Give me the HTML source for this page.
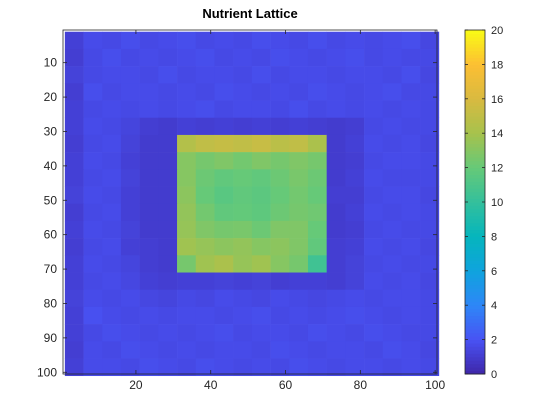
<!DOCTYPE html>
<html><head><meta charset="utf-8"><style>
body{margin:0;background:#fff;}
svg{display:block;font-family:"Liberation Sans",sans-serif;}
</style></head><body>
<svg id="chart" width="560" height="420">
<rect width="560" height="420" fill="#fff"/>
<g id="cells"></g>
<g id="axes"></g>
<g id="cbar"></g>
<text x="250" y="18" text-anchor="middle" font-size="13" font-weight="bold" fill="#000">Nutrient Lattice</text>
</svg>
<script>
// Block-mean values (each block = 5x5 lattice cells)
const blockRows = [
[1.2,1.7,1.6,1.8,1.6,1.7,1.8,1.6,1.7,1.6,1.8,1.7,1.6,1.8,1.6,1.7,1.6,1.7,1.8,1.5],
[1.1,1.6,1.8,1.6,1.7,1.6,1.7,1.8,1.6,1.7,1.6,1.8,1.7,1.6,1.7,1.8,1.6,1.7,1.6,1.6],
[1.3,1.6,1.7,1.7,1.6,1.8,1.6,1.7,1.7,1.6,1.8,1.6,1.7,1.7,1.6,1.7,1.7,1.6,1.8,1.5],
[1.1,1.8,1.6,1.7,1.7,1.6,1.7,1.6,1.8,1.7,1.6,1.7,1.6,1.8,1.7,1.6,1.7,1.8,1.6,1.6],
[1.2,1.6,1.7,1.6,1.7,1.6,1.7,1.8,1.6,1.7,1.7,1.6,1.8,1.6,1.7,1.6,1.7,1.6,1.7,1.6],
[1.2,1.7,1.6,1.4,1.1,1.0,1.2,1.1,1.2,1.1,1.2,1.1,1.2,1.1,1.0,1.1,1.6,1.7,1.6,1.6],
[1.1,1.6,1.7,1.3,1.0,1.0,14.5,15.0,15.2,15.0,15.3,14.8,15.0,14.2,1.0,1.2,1.7,1.6,1.7,1.5],
[1.2,1.7,1.6,1.2,1.0,1.0,13.0,12.5,12.8,12.4,12.8,12.5,12.8,12.5,1.0,1.1,1.6,1.7,1.7,1.6],
[1.2,1.6,1.7,1.3,1.0,1.0,13.0,12.2,11.8,12.0,11.8,12.2,12.6,12.2,1.0,1.2,1.7,1.6,1.6,1.6],
[1.3,1.7,1.6,1.2,1.0,1.0,13.2,12.0,11.5,11.8,11.6,12.0,12.4,12.0,1.1,1.1,1.6,1.7,1.7,1.5],
[1.1,1.6,1.7,1.2,1.0,1.0,13.4,12.4,11.8,11.9,11.7,12.2,12.5,12.3,1.0,1.2,1.7,1.6,1.7,1.6],
[1.2,1.7,1.6,1.3,1.0,1.0,13.5,12.8,12.5,12.6,12.2,12.8,12.8,12.0,1.0,1.1,1.6,1.7,1.6,1.6],
[1.1,1.6,1.7,1.2,1.1,1.0,13.8,13.5,13.2,13.4,13.0,13.2,12.8,11.8,1.1,1.2,1.7,1.6,1.7,1.5],
[1.2,1.7,1.6,1.4,1.1,1.0,12.5,13.8,14.2,13.5,13.8,13.0,12.5,10.5,1.1,1.3,1.6,1.7,1.6,1.6],
[1.2,1.6,1.7,1.5,1.2,1.1,1.2,1.2,1.3,1.2,1.3,1.1,1.2,1.2,1.1,1.3,1.7,1.6,1.7,1.5],
[1.3,1.7,1.6,1.7,1.5,1.4,1.6,1.5,1.7,1.6,1.5,1.7,1.6,1.5,1.6,1.7,1.6,1.7,1.7,1.6],
[1.2,1.9,1.7,1.6,1.7,1.6,1.7,1.7,1.6,1.7,1.8,1.6,1.7,1.6,1.7,1.8,1.7,1.6,1.7,1.6],
[1.2,1.6,1.8,1.7,1.6,1.7,1.6,1.7,1.8,1.6,1.7,1.7,1.6,1.8,1.7,1.6,1.8,1.7,1.6,1.6],
[1.1,1.7,1.6,1.8,1.7,1.6,1.7,1.6,1.7,1.7,1.6,1.8,1.7,1.6,1.7,1.7,1.6,1.8,1.7,1.5],
[1.2,1.7,1.7,1.6,1.8,1.7,1.6,1.8,1.7,1.6,1.7,1.6,1.8,1.7,1.6,1.7,1.7,1.6,1.7,1.6]
];
const xTicks = [20,40,60,80,100];
const yTicks = [10,20,30,40,50,60,70,80,90,100];
const cTicks = [0,2,4,6,8,10,12,14,16,18,20];

const NS="http://www.w3.org/2000/svg";
const L=63,T=30,R=437,B=374,N=100,BS=5,CMAX=20;
const xs=c=>L+(c-0.5)*(R-L)/N;
const ys=r=>T+(r-0.5)*(B-T)/N;
const stops=[[0,62,38,168],[.1,72,82,244],[.2,46,135,247],[.3,15,163,222],[.4,5,181,189],[.5,51,191,156],[.6,102,201,120],[.7,166,194,77],[.8,217,186,64],[.9,252,191,51],[1,249,251,21]];
function cmap(v){let t=Math.max(0,Math.min(1,v/CMAX));for(let i=1;i<stops.length;i++){if(t<=stops[i][0]){const a=stops[i-1],b=stops[i],f=(t-a[0])/(b[0]-a[0]);return `rgb(${[1,2,3].map(k=>Math.round(a[k]+f*(b[k]-a[k]))).join(',')})`;}}return 'rgb(249,251,21)';}
function mk(tag,at,parent){const e=document.createElementNS(NS,tag);for(const k in at)e.setAttribute(k,at[k]);parent.appendChild(e);return e;}

const cells=document.getElementById('cells');
blockRows.forEach((row,i)=>row.forEach((v,j)=>{
  const x0=xs(j*BS+1),x1=xs(j*BS+BS+1),y0=ys(i*BS+1),y1=ys(i*BS+BS+1);
  const r=mk('rect',{x:x0,y:y0,width:x1-x0+0.3,height:y1-y0+0.3,fill:cmap(v)},cells);
  
  
}));

const ax=document.getElementById('axes');
mk('rect',{x:L,y:T,width:R-L,height:B-T,fill:'none',stroke:'#262626','stroke-width':0.8},ax);
xTicks.forEach(t=>{const x=xs(t);
  mk('line',{x1:x,x2:x,y1:B,y2:B-4,stroke:'#262626','stroke-width':0.8},ax);
  mk('line',{x1:x,x2:x,y1:T,y2:T+4,stroke:'#262626','stroke-width':0.8},ax);
  const tx=mk('text',{x:x,y:B+15,'text-anchor':'middle','font-size':12,fill:'#262626'},ax);tx.textContent=t;
  
  
});
yTicks.forEach(t=>{const y=ys(t);
  mk('line',{x1:L,x2:L+4,y1:y,y2:y,stroke:'#262626','stroke-width':0.8},ax);
  mk('line',{x1:R,x2:R-4,y1:y,y2:y,stroke:'#262626','stroke-width':0.8},ax);
  const tx=mk('text',{x:L-6,y:y+4,'text-anchor':'end','font-size':12,fill:'#262626'},ax);tx.textContent=t;
  
  
});

const cb=document.getElementById('cbar');
const CL=465,CR=485;
const cy=v=>B-(v/CMAX)*(B-T);
for(let k=0;k<100;k++){const v0=k*CMAX/100,v1=(k+1)*CMAX/100;
  mk('rect',{x:CL,y:cy(v1),width:CR-CL,height:cy(v0)-cy(v1)+0.5,fill:cmap((v0+v1)/2)},cb);}
mk('rect',{x:CL,y:T,width:CR-CL,height:B-T,fill:'none',stroke:'#262626','stroke-width':0.8},cb);
cTicks.forEach(t=>{const y=cy(t);
  mk('line',{x1:CR,x2:CR-3,y1:y,y2:y,stroke:'#262626','stroke-width':0.8},cb);
  mk('line',{x1:CL,x2:CL+3,y1:y,y2:y,stroke:'#262626','stroke-width':0.8},cb);
  const tx=mk('text',{x:CR+6,y:y+4,'font-size':11,fill:'#262626'},cb);tx.textContent=t;
  
  
});
</script>
</body></html>
